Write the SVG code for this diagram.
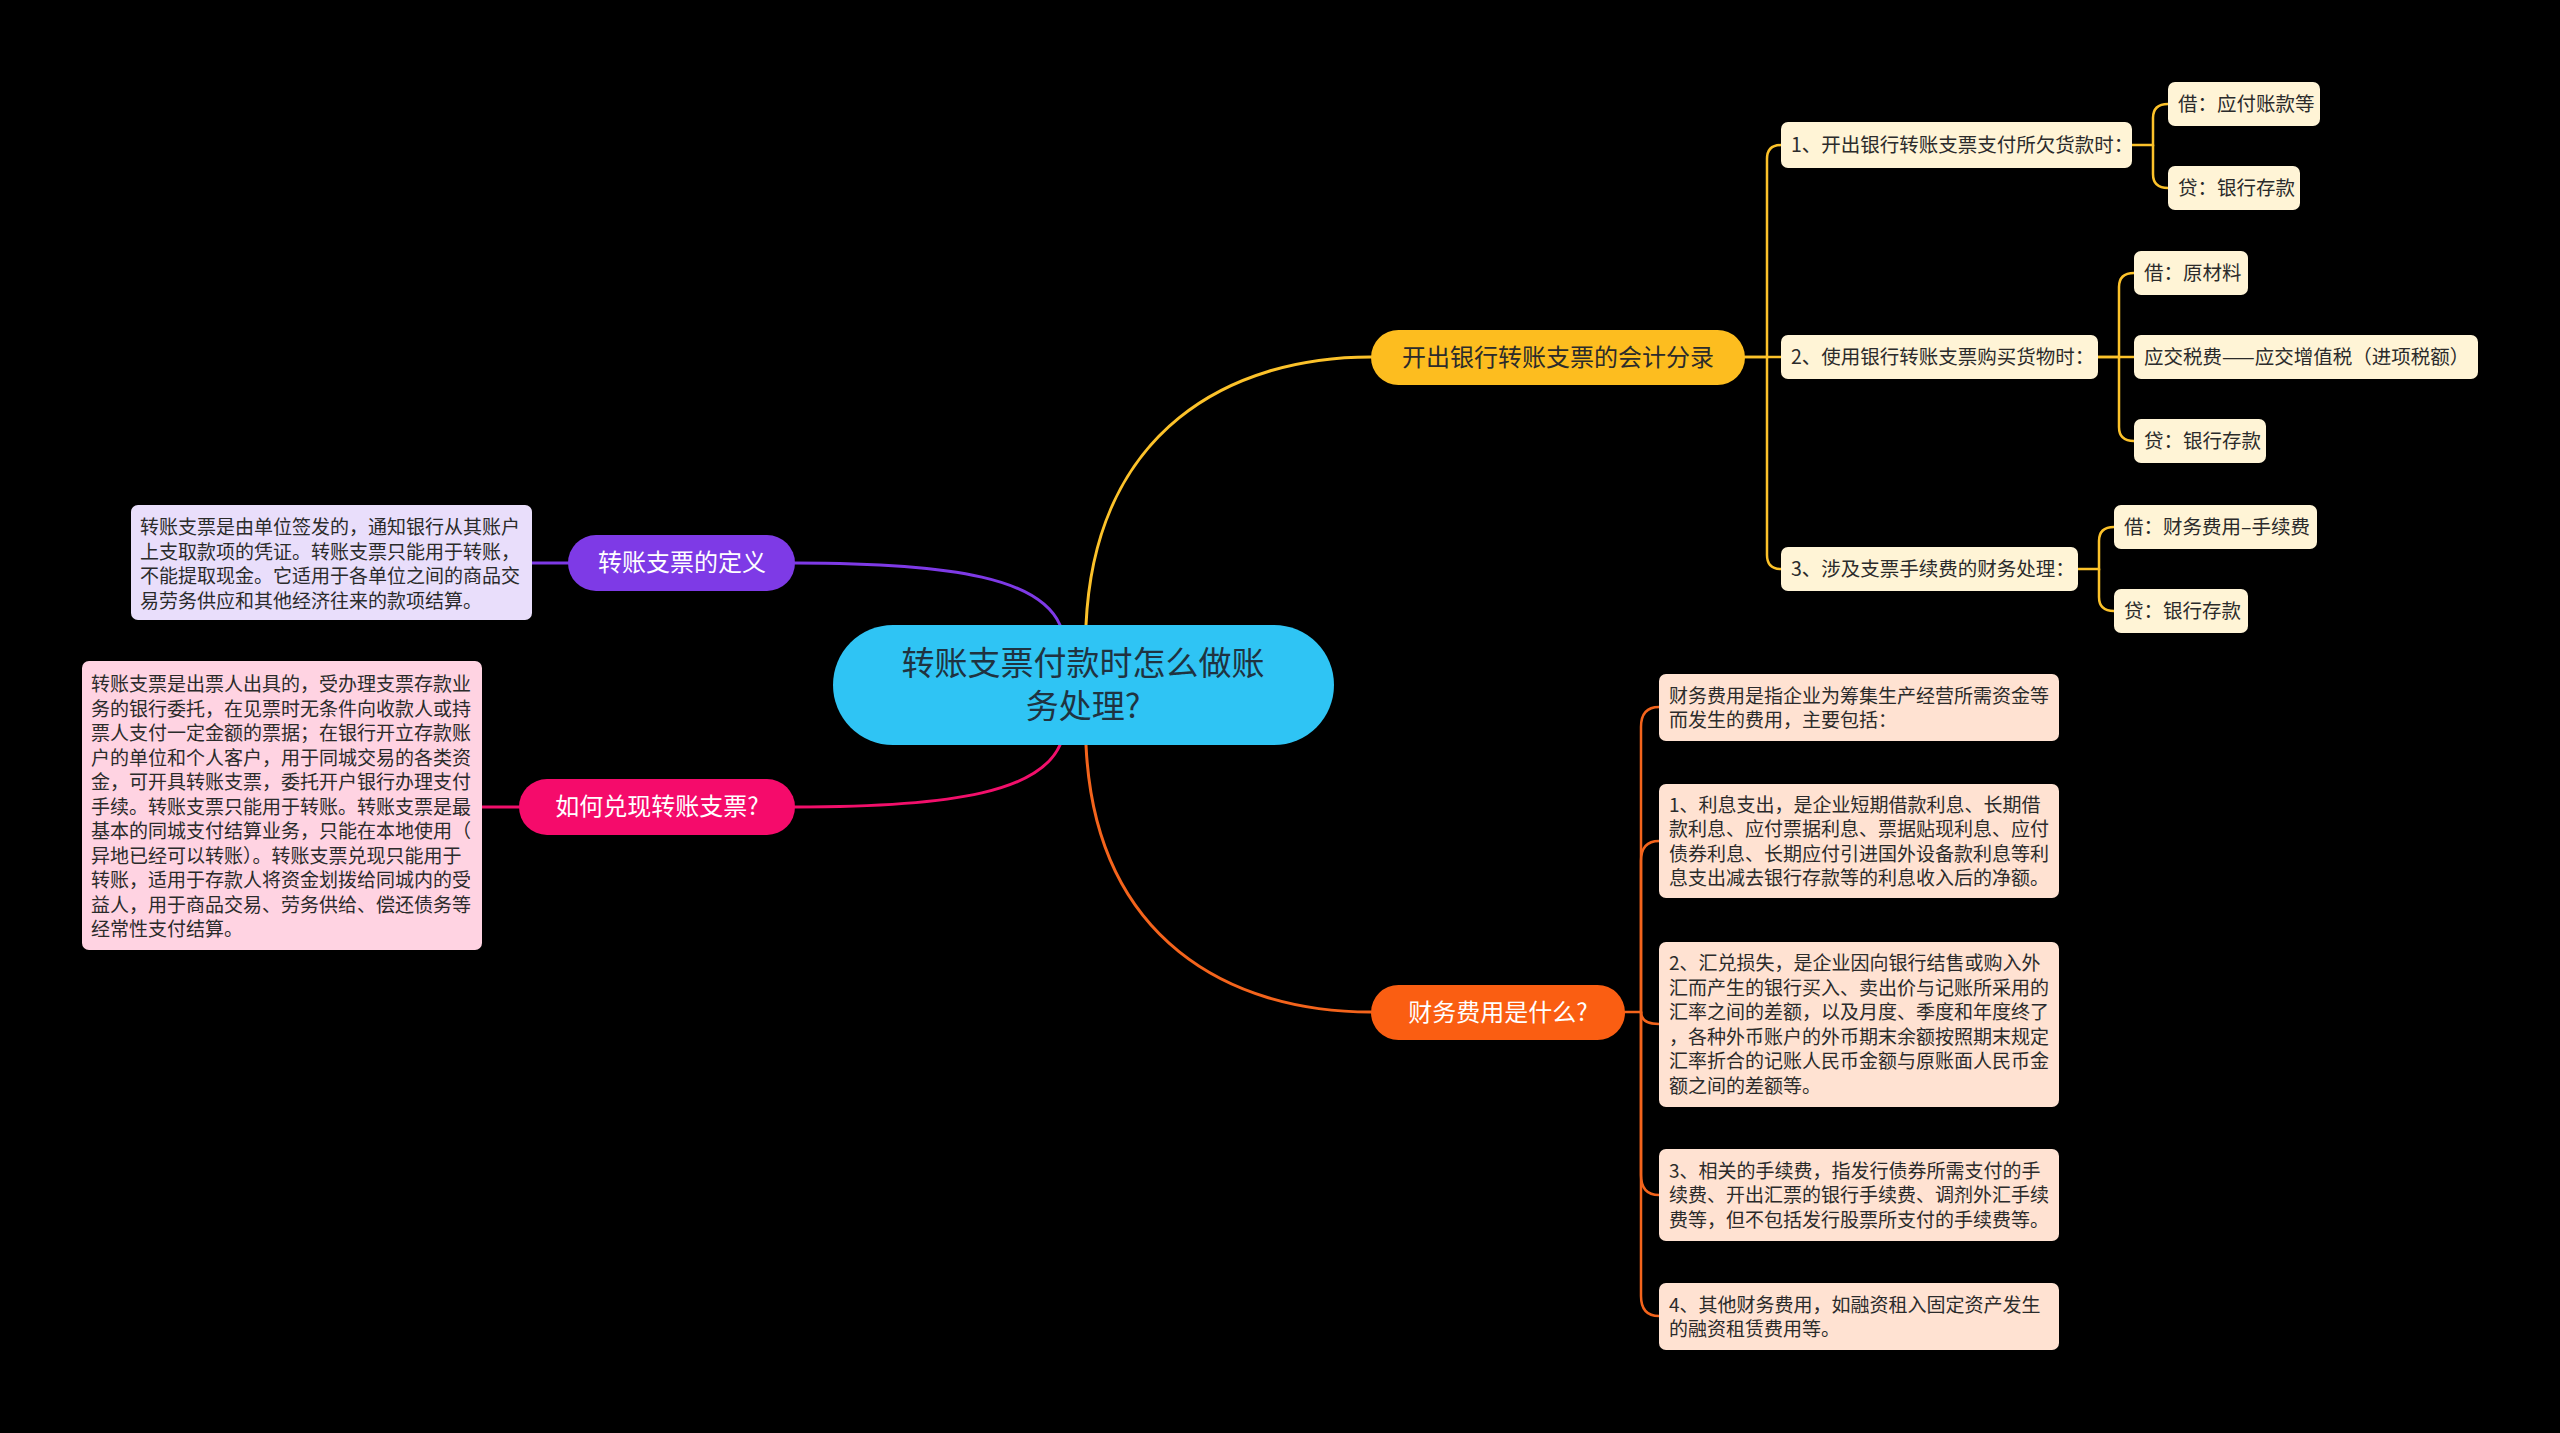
<svg xmlns="http://www.w3.org/2000/svg" width="2560" height="1433" viewBox="0 0 2560 1433">
<style>
text{font-family:"Noto Sans CJK SC","Noto Sans",sans-serif;}
.root{fill:#2fc4f4;}
.rootT{font-size:33px;fill:#1f3341;text-anchor:middle;}
.bT{font-size:24px;text-anchor:middle;fill:#ffffff;}
.bTd{font-size:24px;text-anchor:middle;fill:#2b2b2b;}
.y{fill:#fff4d6;}
.p{fill:#ffe2d2;}
.l{fill:#e9defb;}
.k{fill:#ffd3e2;}
.sT{font-size:19.5px;fill:#2b2b2b;}
.tT{font-size:19px;fill:#2b2b2b;}
.c{fill:none;stroke-width:3;stroke-linecap:round;}
.s{stroke-width:2.5;}
.cy{stroke:#fcc22a;}
.co{stroke:#f4641c;}
.cp{stroke:#7e3ae6;}
.ck{stroke:#f20f6b;}
</style>
<rect x="0" y="0" width="2560" height="1433" fill="#000000"/>
<g id="connectors">
<path class="c cy" d="M1086 625 C1095 430 1230 357 1371 357"/>
<path class="c co" d="M1086 745 C1095 940 1230 1012 1371 1012"/>
<path class="c cp" d="M1060 625 C1040 580 960 563 795 563"/>
<path class="c ck" d="M1060 745 C1040 790 960 807 795 807"/>
<path class="c cp" d="M568 563 L532 563"/>
<path class="c ck" d="M519 807 L482 807"/>
<path class="c cy s" d="M1745 357 H1767 V159 Q1767 145 1781 145"/>
<path class="c cy s" d="M1745 357 L1781 357"/>
<path class="c cy s" d="M1767 357 V555 Q1767 569 1781 569"/>
<path class="c cy s" d="M2132 145 H2153 V118 Q2153 104 2168 104"/>
<path class="c cy s" d="M2153 145 V174 Q2153 188 2168 188"/>
<path class="c cy s" d="M2098 357 H2119 V287 Q2119 273 2134 273"/>
<path class="c cy s" d="M2098 357 L2134 357"/>
<path class="c cy s" d="M2119 357 V427 Q2119 441 2134 441"/>
<path class="c cy s" d="M2078 569 H2099 V541 Q2099 527 2114 527"/>
<path class="c cy s" d="M2099 569 V597 Q2099 611 2114 611"/>
<path class="c co s" d="M1625 1012 H1641 V727 Q1641 707 1659 707"/>
<path class="c co s" d="M1641 1012 V861 Q1641 841 1659 841"/>
<path class="c co s" d="M1641 1012 Q1641 1024 1659 1024"/>
<path class="c co s" d="M1641 1012 V1175 Q1641 1195 1659 1195"/>
<path class="c co s" d="M1641 1012 V1296 Q1641 1316 1659 1316"/>
</g>
<g id="root">
<rect class="root" x="833" y="625" width="501" height="120" rx="60"/>
<text class="rootT" x="1083" y="675">转账支票付款时怎么做账</text>
<text class="rootT" x="1083" y="718">务处理?</text>
</g>
<g id="b1">
<rect x="1371" y="330" width="374" height="55" rx="27.5" fill="#fdbd1f"/>
<text class="bTd" x="1558" y="366">开出银行转账支票的会计分录</text>
</g>
<g id="b1c1">
<rect class="y" x="1781" y="122" width="351" height="46" rx="7"/>
<text class="sT" x="1791" y="152">1、开出银行转账支票支付所欠货款时：</text>
</g>
<g id="b1c2">
<rect class="y" x="1781" y="335" width="317" height="44" rx="7"/>
<text class="sT" x="1791" y="364">2、使用银行转账支票购买货物时：</text>
</g>
<g id="b1c3">
<rect class="y" x="1781" y="547" width="297" height="44" rx="7"/>
<text class="sT" x="1791" y="576">3、涉及支票手续费的财务处理：</text>
</g>
<g id="b1c1a">
<rect class="y" x="2168" y="82" width="152" height="44" rx="7"/>
<text class="sT" x="2178" y="111">借：应付账款等</text>
</g>
<g id="b1c1b">
<rect class="y" x="2168" y="166" width="132" height="44" rx="7"/>
<text class="sT" x="2178" y="195">贷：银行存款</text>
</g>
<g id="b1c2a">
<rect class="y" x="2134" y="251" width="114" height="44" rx="7"/>
<text class="sT" x="2144" y="280">借：原材料</text>
</g>
<g id="b1c2b">
<rect class="y" x="2134" y="335" width="344" height="44" rx="7"/>
<text class="sT" x="2144" y="364">应交税费——应交增值税（进项税额）</text>
</g>
<g id="b1c2c">
<rect class="y" x="2134" y="419" width="132" height="44" rx="7"/>
<text class="sT" x="2144" y="448">贷：银行存款</text>
</g>
<g id="b1c3a">
<rect class="y" x="2114" y="505" width="203" height="44" rx="7"/>
<text class="sT" x="2124" y="534">借：财务费用–手续费</text>
</g>
<g id="b1c3b">
<rect class="y" x="2114" y="589" width="134" height="44" rx="7"/>
<text class="sT" x="2124" y="618">贷：银行存款</text>
</g>
<g id="b2">
<rect x="1371" y="985" width="254" height="55" rx="27.5" fill="#fa5e12"/>
<text class="bT" x="1498" y="1021">财务费用是什么?</text>
</g>
<g id="b2c1">
<rect class="p" x="1659" y="674" width="400" height="67" rx="7"/>
<text class="tT" x="1669" y="703">财务费用是指企业为筹集生产经营所需资金等</text>
<text class="tT" x="1669" y="727">而发生的费用，主要包括：</text>
</g>
<g id="b2c2">
<rect class="p" x="1659" y="784" width="400" height="114" rx="7"/>
<text class="tT" x="1669" y="812">1、利息支出，是企业短期借款利息、长期借</text>
<text class="tT" x="1669" y="836">款利息、应付票据利息、票据贴现利息、应付</text>
<text class="tT" x="1669" y="861">债券利息、长期应付引进国外设备款利息等利</text>
<text class="tT" x="1669" y="885">息支出减去银行存款等的利息收入后的净额。</text>
</g>
<g id="b2c3">
<rect class="p" x="1659" y="942" width="400" height="165" rx="7"/>
<text class="tT" x="1669" y="970">2、汇兑损失，是企业因向银行结售或购入外</text>
<text class="tT" x="1669" y="995">汇而产生的银行买入、卖出价与记账所采用的</text>
<text class="tT" x="1669" y="1019">汇率之间的差额，以及月度、季度和年度终了</text>
<text class="tT" x="1669" y="1044">，各种外币账户的外币期末余额按照期末规定</text>
<text class="tT" x="1669" y="1068">汇率折合的记账人民币金额与原账面人民币金</text>
<text class="tT" x="1669" y="1093">额之间的差额等。</text>
</g>
<g id="b2c4">
<rect class="p" x="1659" y="1149" width="400" height="92" rx="7"/>
<text class="tT" x="1669" y="1178">3、相关的手续费，指发行债券所需支付的手</text>
<text class="tT" x="1669" y="1202">续费、开出汇票的银行手续费、调剂外汇手续</text>
<text class="tT" x="1669" y="1227">费等，但不包括发行股票所支付的手续费等。</text>
</g>
<g id="b2c5">
<rect class="p" x="1659" y="1283" width="400" height="67" rx="7"/>
<text class="tT" x="1669" y="1312">4、其他财务费用，如融资租入固定资产发生</text>
<text class="tT" x="1669" y="1336">的融资租赁费用等。</text>
</g>
<g id="b3">
<rect x="568" y="535" width="227" height="56" rx="28" fill="#7e3ae6"/>
<text class="bT" x="682" y="571">转账支票的定义</text>
</g>
<g id="b3c1">
<rect class="l" x="131" y="505" width="401" height="115" rx="7"/>
<text class="tT" x="140" y="534">转账支票是由单位签发的，通知银行从其账户</text>
<text class="tT" x="140" y="559">上支取款项的凭证。转账支票只能用于转账，</text>
<text class="tT" x="140" y="583">不能提取现金。它适用于各单位之间的商品交</text>
<text class="tT" x="140" y="608">易劳务供应和其他经济往来的款项结算。</text>
</g>
<g id="b4">
<rect x="519" y="779" width="276" height="56" rx="28" fill="#f50b6b"/>
<text class="bT" x="657" y="815">如何兑现转账支票?</text>
</g>
<g id="b4c1">
<rect class="k" x="82" y="661" width="400" height="289" rx="7"/>
<text class="tT" x="91" y="691">转账支票是出票人出具的，受办理支票存款业</text>
<text class="tT" x="91" y="716">务的银行委托，在见票时无条件向收款人或持</text>
<text class="tT" x="91" y="740">票人支付一定金额的票据；在银行开立存款账</text>
<text class="tT" x="91" y="765">户的单位和个人客户，用于同城交易的各类资</text>
<text class="tT" x="91" y="789">金，可开具转账支票，委托开户银行办理支付</text>
<text class="tT" x="91" y="814">手续。转账支票只能用于转账。转账支票是最</text>
<text class="tT" x="91" y="838">基本的同城支付结算业务，只能在本地使用（</text>
<text class="tT" x="91" y="863">异地已经可以转账）。转账支票兑现只能用于</text>
<text class="tT" x="91" y="887">转账，适用于存款人将资金划拨给同城内的受</text>
<text class="tT" x="91" y="912">益人，用于商品交易、劳务供给、偿还债务等</text>
<text class="tT" x="91" y="936">经常性支付结算。</text>
</g>
</svg>
